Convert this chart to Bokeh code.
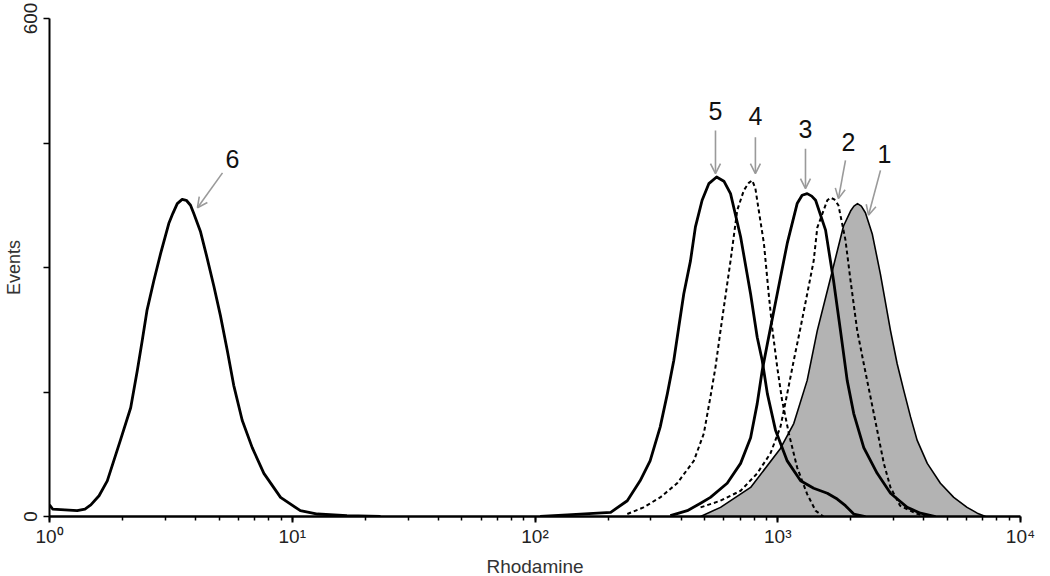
from bokeh.plotting import figure
from bokeh.models import Range1d, FixedTicker, LogTicker, Arrow, OpenHead, ColumnDataSource
from bokeh.core.properties import value
from bokeh.embed import file_html
from bokeh.resources import INLINE

# ---- data (Rhodamine intensity, events) ----
c6_x = [1.00, 1.03, 1.30, 1.40, 1.48, 1.60, 1.73, 1.96, 2.16, 2.30, 2.41, 2.52, 2.69, 2.87, 3.10, 3.22,
        3.36, 3.52, 3.66, 3.81, 3.93, 4.19, 4.43, 4.75, 5.06, 5.40, 5.74, 6.22, 6.84, 7.64, 8.95,
        10.8, 12.7, 16.8, 23.1]
c6_y = [14, 9, 7, 9, 14, 25, 43, 92, 131, 176, 212, 248, 284, 317, 353, 365,
        377, 382, 381, 375, 365, 343, 315, 278, 242, 200, 158, 116, 83, 52, 23,
        7, 3, 1, 0]

c5_x = [105, 136, 205, 240, 271, 298, 328, 351, 373, 391, 410, 437, 458, 488, 520, 560,
        600, 639, 703, 773, 823, 863, 906, 979, 1094, 1242, 1406, 1600, 1758, 1901, 2056, 2297]
c5_y = [0, 2, 5, 19, 43, 67, 108, 148, 188, 228, 268, 308, 349, 381, 401, 409,
        404, 389, 337, 268, 216, 188, 148, 104, 67, 43, 34, 28, 21, 13, 3, 0]

c4_x = [240, 280, 328, 385, 451, 496, 528, 554, 581, 639, 681, 725, 760, 785, 809, 835, 877,
        918, 948, 995, 1042, 1111, 1202, 1322, 1432, 1542]
c4_y = [3, 11, 23, 40, 67, 100, 144, 180, 224, 308, 369, 393, 402, 405, 395, 369, 329,
        268, 228, 180, 140, 100, 59, 27, 7, 0]

c3_x = [361, 424, 481, 528, 619, 703, 773, 823, 863, 906, 964, 1026, 1094, 1202, 1260, 1322,
        1380, 1432, 1574, 1698, 1813, 1932, 2056, 2261, 2568, 2914, 3414, 3873, 4467]
c3_y = [1, 7, 16, 23, 40, 64, 95, 136, 176, 208, 248, 288, 329, 377, 387, 389,
        386, 381, 345, 284, 224, 164, 124, 83, 52, 28, 11, 4, 0]

c2_x = [481, 581, 703, 823, 933, 1026, 1094, 1164, 1242, 1322, 1406, 1455, 1600, 1652, 1710, 1778,
        1901, 1995, 2125, 2261, 2410, 2568, 2735, 2914, 3192, 3690, 4060]
c2_y = [11, 19, 31, 52, 76, 108, 148, 188, 228, 268, 308, 348, 381, 384, 382, 375,
        333, 284, 224, 184, 144, 104, 64, 35, 13, 4, 0]

c1_x = [481, 581, 773, 1026, 1164, 1322, 1455, 1652, 1866, 1995, 2060, 2131, 2210, 2297, 2453, 2648,
        2914, 3104, 3304, 3524, 3750, 4130, 4677, 5309, 6026, 6637, 7178]
c1_y = [0, 11, 35, 82, 112, 164, 224, 288, 350, 368, 374, 377, 374, 366, 340, 292,
        224, 184, 152, 120, 92, 64, 40, 23, 11, 4, 0]

# annotation labels and arrows (data units)
ann_text = ["6", "5", "4", "3", "2", "1"]
ann_tx = [5.67, 554, 809, 1301, 1955, 2754]
ann_ty = [431, 489, 483, 467, 451, 437]
arr_x0 = [5.16, 554, 809, 1301, 1901, 2650]
arr_y0 = [414, 465, 457, 443, 429, 417]
arr_x1 = [4.07, 554, 809, 1301, 1778, 2365]
arr_y1 = [372, 413, 413, 395, 383, 363]

x_ticks = [1, 10, 100, 1000, 10000]
x_tick_labels = ["10\u2070", "10\u00b9", "10\u00b2", "10\u00b3", "10\u2074"]
y_ticks = [0, 150, 300, 450, 600]
y_tick_labels = ["0", "", "", "", "600"]

p = figure(frame_width=971, frame_height=498, x_axis_type="log",
           x_range=Range1d(1, 10000), y_range=Range1d(0, 600),
           output_backend="svg", toolbar_location=None,
           min_border_left=49, min_border_right=18, min_border_top=18, min_border_bottom=40)
p.outline_line_color = None
p.xgrid.visible = False
p.ygrid.visible = False
p.background_fill_color = "white"

font = "Liberation Sans"

# filled histogram 1
p.varea(x=c1_x, y1=[0] * len(c1_x), y2=c1_y, fill_color="#b3b3b3", fill_alpha=1.0)
p.line(c1_x, c1_y, line_color="black", line_width=1.6, line_join="round")

p.line(c2_x, c2_y, line_color="black", line_width=2, line_dash="4 3", line_join="round")
p.line(c4_x, c4_y, line_color="black", line_width=2, line_dash="4 3", line_join="round")
p.line(c3_x, c3_y, line_color="black", line_width=2.8, line_join="round")
p.line(c5_x, c5_y, line_color="black", line_width=2.8, line_join="round")
p.line(c6_x, c6_y, line_color="black", line_width=2.8, line_join="round")

for i in range(len(ann_text)):
    p.add_layout(Arrow(end=OpenHead(size=10, line_color="#9a9a9a", line_width=1.6),
                       x_start=arr_x0[i], y_start=arr_y0[i], x_end=arr_x1[i], y_end=arr_y1[i],
                       line_color="#9a9a9a", line_width=1.6))

src = ColumnDataSource(dict(x=ann_tx, y=ann_ty, t=ann_text))
p.text(x="x", y="y", text="t", source=src, text_align="center", text_baseline="middle",
       text_font=value(font), text_font_size="25px", text_color="#111111")

# axes
p.xaxis.ticker = LogTicker(num_minor_ticks=10)
p.xaxis.major_label_overrides = dict(zip(x_ticks, x_tick_labels))
p.xaxis.axis_label = "Rhodamine"
p.yaxis.ticker = FixedTicker(ticks=y_ticks)
p.yaxis.major_label_overrides = dict(zip(y_ticks, y_tick_labels))
p.yaxis.axis_label = "Events"
p.yaxis.major_label_orientation = "vertical"

for ax in (p.xaxis, p.yaxis):
    ax.axis_line_color = "black"
    ax.major_tick_line_color = "black"
    ax.minor_tick_line_color = "black"
    ax.major_tick_out = 6
    ax.major_tick_in = 0
    ax.minor_tick_out = 4
    ax.minor_tick_in = 0
    ax.major_label_text_font = font
    ax.major_label_text_font_size = "19px"
    ax.major_label_text_color = "#222222"
    ax.axis_label_text_font = font
    ax.axis_label_text_font_style = "normal"
    ax.axis_label_text_color = "#333333"
    ax.axis_label_text_font_size = "19px"

p.xaxis.major_label_standoff = 3
p.xaxis.axis_label_standoff = 6
p.yaxis.major_label_standoff = 7
p.yaxis.axis_label_standoff = -3
p.yaxis.axis_label_text_font_size = "18px"

p.xaxis.axis_line_width = 2.5
p.xaxis.major_tick_line_width = 2
p.xaxis.minor_tick_line_width = 1.5
p.yaxis.axis_line_width = 2
p.yaxis.major_tick_line_width = 1.5
p.yaxis.minor_tick_line_color = None

open("out.html", "w").write(file_html(p, INLINE))
